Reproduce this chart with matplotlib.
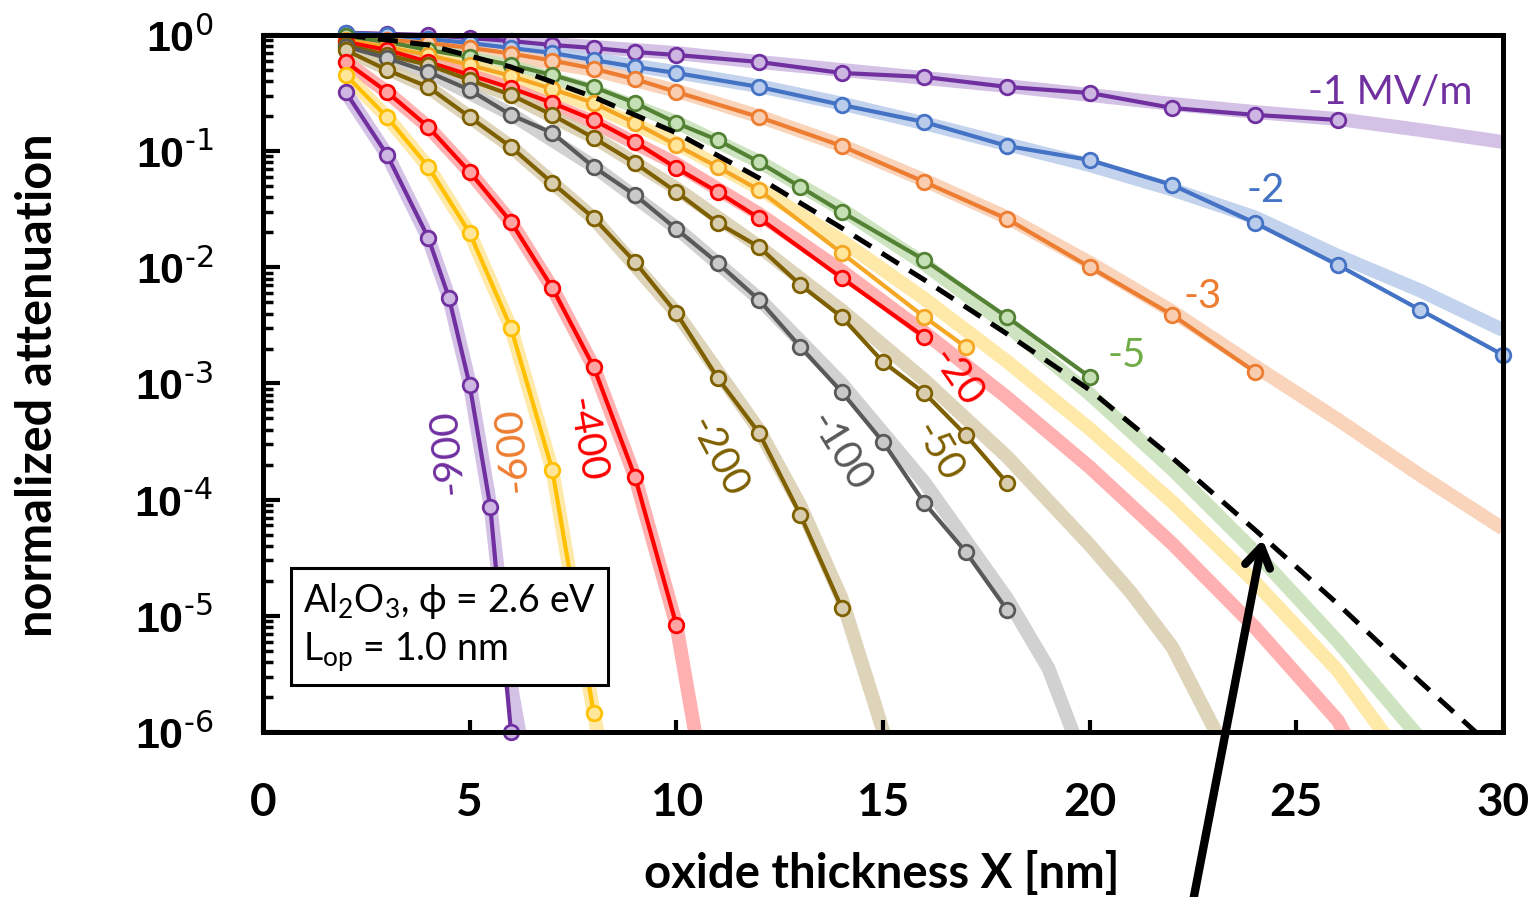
import numpy as np
import matplotlib
matplotlib.use("Agg")
import matplotlib.pyplot as plt
from matplotlib.patches import Rectangle
from matplotlib.ticker import LogLocator, NullFormatter

plt.rcParams['font.family'] = ['Lato', 'DejaVu Sans']
plt.rcParams['mathtext.default'] = 'regular'

# simulated points: oxide thickness (nm) and log10 of normalized attenuation
x_m1 = [2, 3, 4, 5, 6, 7, 8, 9, 10, 12, 14, 16, 18, 20, 22, 24, 26]
lg_m1 = [0.02, 0.01, 0.0, -0.026, -0.052, -0.086, -0.112, -0.146, -0.172, -0.232,
         -0.327, -0.361, -0.447, -0.499, -0.628, -0.688, -0.731]
x_m2 = [2, 3, 4, 5, 6, 7, 8, 9, 10, 12, 14, 16, 18, 20, 22, 24, 26, 28, 30]
lg_m2 = [0.02, 0.0, -0.034, -0.069, -0.112, -0.155, -0.215, -0.275, -0.327, -0.447,
         -0.602, -0.749, -0.955, -1.076, -1.291, -1.618, -1.979, -2.367, -2.754]
x_m3 = [2, 3, 4, 5, 6, 7, 8, 9, 10, 12, 14, 16, 18, 20, 22, 24]
lg_m3 = [-0.02, -0.04, -0.07, -0.11, -0.16, -0.22, -0.29, -0.38, -0.49, -0.706,
         -0.955, -1.265, -1.583, -1.997, -2.41, -2.9]
x_m5 = [2, 3, 4, 5, 6, 7, 8, 9, 10, 11, 12, 13, 14, 16, 18, 20]
lg_m5 = [-0.01, -0.06, -0.129, -0.189, -0.258, -0.344, -0.448, -0.585, -0.757, -0.904,
         -1.093, -1.308, -1.523, -1.936, -2.427, -2.943]
x_m10 = [2, 3, 4, 5, 6, 7, 8, 9, 10, 11, 12, 14, 16, 17]
lg_m10 = [-0.043, -0.103, -0.172, -0.258, -0.353, -0.465, -0.585, -0.757, -0.947, -1.136,
          -1.334, -1.876, -2.427, -2.685]
x_m20 = [2, 3, 4, 5, 6, 7, 8, 9, 10, 11, 12, 14, 16]
lg_m20 = [-0.06, -0.129, -0.232, -0.344, -0.456, -0.585, -0.731, -0.921, -1.145, -1.351,
          -1.575, -2.091, -2.599]
x_m50 = [2, 3, 4, 5, 6, 7, 8, 9, 10, 11, 12, 13, 14, 15, 16, 17, 18]
lg_m50 = [-0.086, -0.172, -0.258, -0.387, -0.516, -0.688, -0.886, -1.102, -1.351, -1.618,
          -1.824, -2.151, -2.427, -2.814, -3.081, -3.442, -3.855]
x_m100 = [2, 3, 4, 5, 6, 7, 8, 9, 10, 11, 12, 13, 14, 15, 16, 17, 18]
lg_m100 = [-0.1, -0.198, -0.318, -0.473, -0.688, -0.843, -1.136, -1.377, -1.67, -1.962,
           -2.28, -2.685, -3.072, -3.503, -4.028, -4.449, -4.948]
x_m200 = [2, 3, 4, 5, 6, 7, 8, 9, 10, 11, 12, 13, 14]
lg_m200 = [-0.13, -0.301, -0.448, -0.706, -0.964, -1.274, -1.575, -1.954, -2.393, -2.952,
           -3.425, -4.131, -4.931]
x_m400 = [2, 3, 4, 5, 6, 7, 8, 9, 10]
lg_m400 = [-0.232, -0.49, -0.792, -1.179, -1.609, -2.177, -2.857, -3.804, -5.077]
x_m600 = [2, 3, 4, 5, 6, 7, 8]
lg_m600 = [-0.344, -0.706, -1.136, -1.704, -2.522, -3.744, -5.835]
x_m900 = [2, 3, 4, 4.5, 5, 5.5, 6]
lg_m900 = [-0.49, -1.03, -1.747, -2.263, -3.012, -4.062, -6.0]

# analytical model curves (wide pale bands), log10 of attenuation
bx_full = [2, 4, 6, 8, 10, 12, 14, 16, 18, 20, 22, 24, 26, 28, 30]
blg_m1 = [0.0, -0.017, -0.052, -0.103, -0.155, -0.232, -0.301, -0.37, -0.439, -0.516,
          -0.594, -0.663, -0.723, -0.818, -0.921]
blg_m2 = [0.0, -0.03, -0.11, -0.21, -0.32, -0.44, -0.59, -0.76, -0.94, -1.12, -1.33,
          -1.57, -1.9, -2.2, -2.54]
blg_m3 = [-0.02, -0.08, -0.18, -0.3, -0.48, -0.7, -0.95, -1.25, -1.57, -1.96, -2.38,
          -2.85, -3.31, -3.79, -4.25]
bx_m5 = [2, 4, 6, 8, 10, 12, 14, 16, 18, 20, 22, 24, 26, 28.1]
blg_m5 = [-0.01, -0.12, -0.27, -0.48, -0.75, -1.09, -1.5, -1.97, -2.5, -3.09, -3.74,
          -4.45, -5.22, -6.1]
bx_m10 = [2, 4, 6, 8, 10, 12, 14, 16, 18, 20, 22, 24, 26, 27.3]
blg_m10 = [-0.04, -0.17, -0.36, -0.61, -0.93, -1.32, -1.77, -2.27, -2.81, -3.39, -4.02,
           -4.71, -5.47, -6.1]
bx_m20 = [2, 4, 6, 8, 10, 12, 14, 16, 18, 20, 22, 24, 26, 26.3]
blg_m20 = [-0.06, -0.23, -0.46, -0.75, -1.11, -1.54, -2.03, -2.56, -3.12, -3.72, -4.38,
           -5.1, -5.9, -6.1]
bx_m50 = [2, 4, 6, 8, 10, 12, 14, 16, 18, 20, 21, 22, 23.2]
blg_m50 = [-0.09, -0.26, -0.52, -0.88, -1.32, -1.82, -2.37, -2.97, -3.63, -4.39, -4.8,
           -5.27, -6.1]
bx_m100 = [2, 4, 6, 8, 10, 12, 14, 16, 18, 19, 19.7]
blg_m100 = [-0.1, -0.32, -0.68, -1.13, -1.66, -2.27, -3.0, -3.85, -4.85, -5.45, -6.1]
bx_m200 = [2, 4, 6, 8, 10, 12, 13, 14, 15.1]
blg_m200 = [-0.13, -0.45, -0.96, -1.58, -2.39, -3.4, -4.05, -4.85, -6.1]
bx_m400 = [2, 3, 4, 5, 6, 7, 8, 9, 10, 10.5]
blg_m400 = [-0.232, -0.49, -0.792, -1.179, -1.609, -2.177, -2.857, -3.804, -5.077, -6.1]
bx_m600 = [2, 3, 4, 5, 6, 7, 8, 8.15]
blg_m600 = [-0.344, -0.706, -1.136, -1.704, -2.522, -3.744, -5.835, -6.1]
bx_m900 = [2, 3, 4, 4.5, 5, 5.5, 6, 6.25]
blg_m900 = [-0.49, -1.03, -1.75, -2.26, -3.0, -4.05, -5.6, -6.1]

# zero-field limit (dashed)
x_lim = [2, 4, 6, 8, 10, 12, 14, 16, 18, 20, 22, 24, 26, 28, 29.4]
lg_lim = [0.0, -0.086, -0.275, -0.534, -0.843, -1.231, -1.661, -2.108, -2.573, -3.055,
          -3.64, -4.26, -4.897, -5.568, -6.02]

PURPLE, PURPLE_L = '#7030A0', '#CDB6E2'
BLUE, BLUE_L = '#4472C4', '#B9CCEB'
ORANGE, ORANGE_L = '#ED7D31', '#F8CDB0'
GREEN, GREEN_L = '#548235', '#C6E0B6'
AMBER, YELLOW_L = '#F5A623', '#FFE699'
RED, RED_L = '#FF0000', '#FFA3A3'
OLIVE, TAN_L = '#7F6000', '#D8CDAE'
GRAY, GRAY_L = '#595959', '#C9C9C9'
GOLD = '#FFC000'

series = [
    (x_m1, lg_m1, bx_full, blg_m1, PURPLE, PURPLE_L),
    (x_m2, lg_m2, bx_full, blg_m2, BLUE, BLUE_L),
    (x_m3, lg_m3, bx_full, blg_m3, ORANGE, ORANGE_L),
    (x_m5, lg_m5, bx_m5, blg_m5, GREEN, GREEN_L),
    (x_m10, lg_m10, bx_m10, blg_m10, AMBER, YELLOW_L),
    (x_m20, lg_m20, bx_m20, blg_m20, RED, RED_L),
    (x_m50, lg_m50, bx_m50, blg_m50, OLIVE, TAN_L),
    (x_m100, lg_m100, bx_m100, blg_m100, GRAY, GRAY_L),
    (x_m200, lg_m200, bx_m200, blg_m200, OLIVE, TAN_L),
    (x_m400, lg_m400, bx_m400, blg_m400, RED, RED_L),
    (x_m600, lg_m600, bx_m600, blg_m600, GOLD, YELLOW_L),
    (x_m900, lg_m900, bx_m900, blg_m900, PURPLE, PURPLE_L),
]

fig = plt.figure(figsize=(15.33, 8.97), dpi=100)
ax = fig.add_axes([263 / 1533, 1 - 732 / 897, 1240 / 1533, 697 / 897])

for x, lg, bx, blg, col, pale in series:
    ax.plot(bx, 10 ** np.array(blg), color=pale, lw=10, alpha=0.85,
            solid_capstyle='butt', solid_joinstyle='round', zorder=1)

for x, lg, bx, blg, col, pale in series:
    ax.plot(x, 10 ** np.array(lg), color=col, lw=3, marker='o', ms=10.5,
            mfc=pale, mec=col, mew=2, zorder=3, clip_on=False)

ax.plot(x_lim, 10 ** np.array(lg_lim), color='black', lw=3.6, ls=(0, (4, 2.5)),
        zorder=5)

ax.set_yscale('log')
ax.set_xlim(0, 30)
ax.set_ylim(1e-6, 1)

for s in ax.spines.values():
    s.set_linewidth(3.6)
    s.set_zorder(6)

ax.set_xticks([0, 5, 10, 15, 20, 25, 30])
ax.set_xticklabels(['0', '5', '10', '15', '20', '25', '30'],
                   fontsize=33, fontweight='bold')
ax.tick_params(axis='x', direction='in', length=9, width=3, pad=36, top=False)

decades = [1e-6, 1e-5, 1e-4, 1e-3, 1e-2, 1e-1, 1]
exponents = ['-6', '-5', '-4', '-3', '-2', '-1', '0']
ax.set_yticks(decades)
ax.set_yticklabels([r'$10^{\text{%s}}$' % e for e in exponents],
                   fontsize=31, fontweight='bold', family='Liberation Sans')
ax.yaxis.set_minor_locator(LogLocator(base=10, subs=np.arange(2, 10), numticks=20))
ax.yaxis.set_minor_formatter(NullFormatter())
ax.tick_params(axis='y', which='major', direction='in', length=12, width=3, pad=36,
               right=False)
ax.tick_params(axis='y', which='minor', direction='in', length=7, width=2.5,
               right=False)

fig.text(882 / 1533, 1 - 873 / 897, 'oxide thickness X [nm]', fontsize=34,
         fontweight='bold', ha='center', va='center')
fig.text(38 / 1533, 1 - 385 / 897, 'normalized attenuation', fontsize=35,
         fontweight='bold', ha='center', va='center', rotation=90)

# field labels (MV/m)
labels = [
    ('-1 MV/m', 1390, 93, 0, PURPLE),
    ('-2', 1266, 190, 0, BLUE),
    ('-3', 1203, 297, 0, ORANGE),
    ('-5', 1127, 355, 0, '#70AD47'),
    ('-20', 957, 378, -55, RED),
    ('-50', 938, 452, -60, OLIVE),
    ('-100', 840, 452, -58, GRAY),
    ('-200', 718, 457, -62, OLIVE),
    ('-400', 585, 440, -80, RED),
    ('-600', 512, 450, 95, ORANGE),
    ('-900', 447, 452, 95, PURPLE),
]
for txt, px, py, rot, col in labels:
    ax.text((px - 263) / 1240, (732 - py) / 697, txt, transform=ax.transAxes,
            fontsize=29, color=col, rotation=rot, ha='center', va='center',
            rotation_mode='anchor', zorder=7)

# material parameters box
ax.add_patch(Rectangle(((291 - 263) / 1240, (732 - 685) / 697), 317 / 1240, 117 / 697,
                       transform=ax.transAxes, fill=True, facecolor='white',
                       edgecolor='black', lw=2.2, zorder=8))
ax.text((303 - 263) / 1240, (732 - 601) / 697, r'Al$_2$O$_3$, ϕ = 2.6 eV',
        transform=ax.transAxes, fontsize=27, ha='left', va='center', zorder=9)
ax.text((303 - 263) / 1240, (732 - 652) / 697, r'L$_{op}$ = 1.0 nm',
        transform=ax.transAxes, fontsize=27, ha='left', va='center', zorder=9)

# arrow pointing at the zero-field limit
ax.annotate('', xy=(24.2, 10 ** -4.32), xycoords='data',
            xytext=(1190, -20), textcoords='figure pixels',
            arrowprops=dict(arrowstyle='->,head_length=1.4,head_width=0.9', lw=6,
                            color='black', capstyle='round', joinstyle='round'),
            annotation_clip=False, zorder=10)

fig.savefig('out.png', dpi=100)
